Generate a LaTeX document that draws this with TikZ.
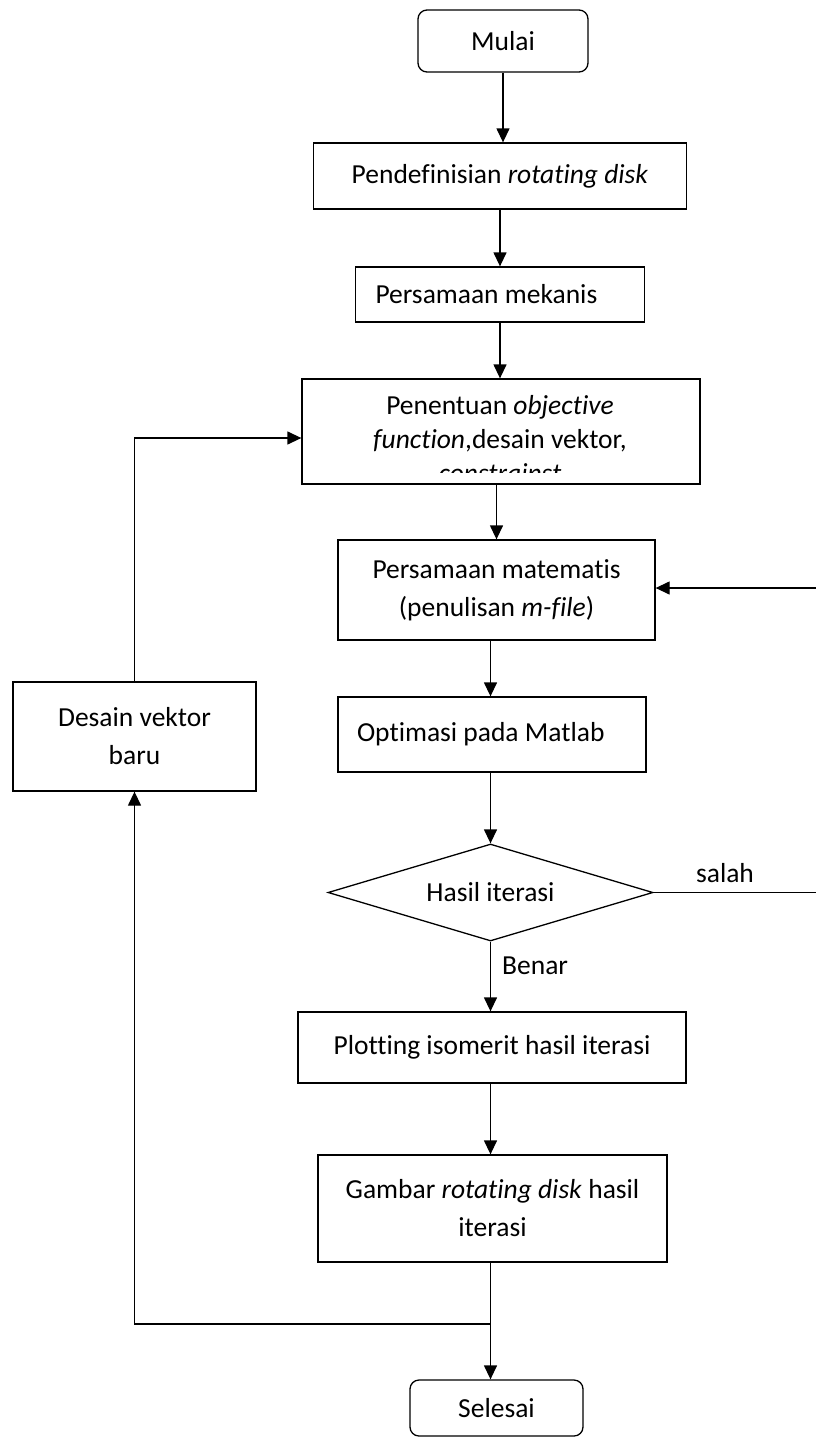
\documentclass[tikz,border=0pt]{standalone}
\usepackage{fontspec}
\setmainfont{Carlito}[Ligatures=NoCommon]
\usetikzlibrary{shapes.geometric}
\usetikzlibrary{arrows.meta}

\begin{document}
\begin{tikzpicture}[x=1pt,y=-1pt,
  kotak/.style={draw,line width=1.3pt,inner sep=0pt,align=center,font=\fontsize{27.5}{38}\selectfont},
  ujung/.style={kotak,rounded corners=9pt},
  keputusan/.style={kotak,diamond,aspect=3.35},
  keterangan/.style={inner sep=0pt,font=\fontsize{27.5}{34}\selectfont},
  panah/.style={line width=1.3pt,-{Triangle[length=14pt,width=13pt]}}]
  \useasboundingbox (0,0) rectangle (815,1437);
  \node[ujung,minimum width=170,minimum height=62] (mulai) at (503,41) {Mulai};
  \node[kotak,minimum width=373,minimum height=66] (definisi) at (500,176) {Pendefinisian \textit{rotating disk}};
  \node[kotak,minimum height=55,text width=249,inner xsep=20,align=flush left] (mekanis) at (500,294.5) {Persamaan mekanis};
  \node[kotak,minimum width=398,minimum height=105] (tujuan) at (501,431.5) {};
  \begin{scope}
    \clip (303,380) rectangle (699,472);
    \node[keterangan,align=center,anchor=north,font=\fontsize{27.5}{34}\selectfont] (tujuanteks) at (500,395) {Penentuan \textit{objective}\\\textit{function},desain vektor,\\\textit{constrainst}};
  \end{scope}
  \node[kotak,minimum width=317,minimum height=100] (matematis) at (496.5,590) {Persamaan matematis\\(penulisan \textit{m-file})};
  \node[kotak,minimum height=75,text width=270,inner xsep=19,align=flush left] (optimasi) at (492,734.5) {Optimasi pada Matlab};
  \node[keputusan,minimum width=325,minimum height=97] (hasil) at (490.5,892.5) {Hasil iterasi};
  \node[keterangan] (salah) at (725,873) {salah};
  \node[keterangan,anchor=west] (benar) at (502,966) {Benar};
  \node[kotak,minimum width=388,minimum height=71] (plotting) at (492,1047.5) {Plotting isomerit hasil iterasi};
  \node[kotak,minimum width=349,minimum height=107] (gambar) at (492.5,1208.5) {Gambar \textit{rotating disk} hasil\\iterasi};
  \node[ujung,minimum width=173,minimum height=56] (selesai) at (496.5,1408) {Selesai};
  \node[kotak,minimum width=243,minimum height=109] (desain) at (134.5,736.5) {Desain vektor\\baru};
  \coordinate (gabung) at (490.5,1324);
  \coordinate (balik) at (817,892.5);
  \draw[panah] (mulai.south) -- (mulai.south |- definisi.north);
  \draw[panah] (definisi.south) -- (definisi.south |- mekanis.north);
  \draw[panah] (mekanis.south) -- (mekanis.south |- tujuan.north);
  \draw[panah] (tujuan.south -| matematis) -- (matematis.north);
  \draw[panah] (matematis.south -| hasil) -- (optimasi.north -| hasil);
  \draw[panah] (optimasi.south -| hasil) -- (hasil.north);
  \draw[panah] (hasil.south) -- (plotting.north -| hasil);
  \draw[panah] (plotting.south -| hasil) -- (gambar.north -| hasil);
  \draw[line width=1.3pt] (gambar.south -| hasil) -- (gabung);
  \draw[panah] (gabung) -- (selesai.north -| hasil);
  \draw[panah] (gabung) -| (desain.south);
  \draw[panah] (desain.north) |- ([yshift=-6.5pt]tujuan.west);
  \draw[panah] (hasil.east) -- (balik) |- ([yshift=2pt]matematis.east);
\end{tikzpicture}
\end{document}
